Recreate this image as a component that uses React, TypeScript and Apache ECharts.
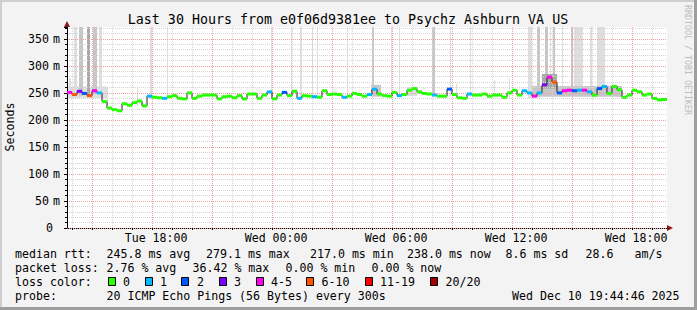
import React, { useEffect, useRef } from 'react';
import * as echarts from 'echarts';

// ---- data ----
const titleText = 'Last 30 Hours from e0f06d9381ee to Psychz Ashburn VA US';
const yAxisTitle = 'Seconds';
const watermark = 'RRDTOOL / TOBI OETIKER';

// time axis: minutes since the graph start (Tue 13:44:46), 30 hours long
const RANGE_MIN = 1800;
const STEP_MIN = 15;
const FIRST_FULL_HOUR_MIN = 15 + 14 / 60; // Tue 14:00:00
const HOUR_COUNT = 30;
const xTickLabels = ['Tue 18:00', 'Wed 00:00', 'Wed 06:00', 'Wed 12:00', 'Wed 18:00'];
const xTickHourIndex = [4, 10, 16, 22, 28]; // hours after Tue 14:00

// median rtt (ms), one value per 15 minutes
const medianRtt = [
  251, 247, 253, 249, 245, 254, 250, 234, 222, 219,
  217, 230, 227, 232, 235, 226, 244, 242, 241, 240,
  243, 245, 240, 239, 250, 240, 244, 246, 246, 246,
  239, 243, 244, 241, 245, 239, 248, 248, 240, 246,
  252, 239, 246, 251, 245, 253, 240, 245, 244, 243,
  242, 254, 247, 248, 247, 242, 244, 249, 247, 244,
  247, 257, 248, 245, 244, 251, 245, 247, 255, 258,
  252, 249, 248, 246, 244, 244, 257, 247, 241, 240,
  248, 246, 246, 248, 244, 246, 246, 242, 250, 255,
  246, 254, 250, 244, 250, 265, 279, 270, 250, 254,
  255, 254, 255, 255, 252, 246, 258, 262, 249, 262,
  256, 242, 246, 255, 252, 246, 248, 240, 237, 238,
];
// loss bucket index per step (0 = 0 lost, 1 = 1, 2 = 2, 3 = 3, 4 = 4-5, 5 = 6-10, 6 = 11-19, 7 = 20/20)
const lossBucket = [
  4, 5, 3, 2, 5, 4, 1, 0, 0, 0,
  0, 0, 0, 0, 0, 0, 1, 0, 0, 1,
  0, 0, 0, 0, 0, 0, 0, 0, 0, 0,
  0, 0, 0, 0, 0, 0, 0, 0, 0, 0,
  1, 0, 0, 2, 0, 0, 1, 0, 0, 1,
  0, 0, 0, 0, 0, 1, 0, 0, 0, 0,
  1, 1, 0, 0, 0, 0, 1, 0, 0, 0,
  0, 0, 0, 1, 0, 0, 2, 0, 0, 0,
  1, 0, 0, 0, 0, 0, 0, 0, 0, 0,
  0, 1, 1, 4, 1, 3, 4, 5, 2, 4,
  4, 2, 1, 4, 1, 0, 2, 1, 0, 0,
  0, 0, 0, 0, 0, 0, 0, 0, 0, 0,
];
// smoke: [start minute, duration minutes, low ms, high ms, density level]
const smoke = [
  [0, 120, 240, 262, 1],
  [912, 30, 243, 265, 2],
  [1020, 30, 244, 261, 1],
  [1395, 270, 243, 263, 2],
  [1425, 45, 258, 285, 3],
  [6, 6, 245, 277, 1],
  [21, 9, 244, 400, 1],
  [36, 12, 245, 400, 2],
  [60, 9, 243, 400, 3],
  [78, 12, 248, 400, 2],
  [96, 9, 246, 400, 1],
  [120, 3, 228, 261, 1],
  [210, 3, 226, 262, 1],
  [249, 6, 238, 400, 1],
  [300, 3, 239, 400, 1],
  [612, 3, 244, 400, 1],
  [672, 3, 243, 400, 1],
  [699, 6, 238, 400, 1],
  [735, 3, 240, 400, 1],
  [750, 3, 240, 400, 1],
  [840, 3, 242, 400, 1],
  [915, 6, 245, 400, 2],
  [972, 3, 243, 400, 1],
  [996, 3, 243, 400, 1],
  [1095, 9, 244, 400, 2],
  [1149, 3, 243, 400, 1],
  [1167, 3, 244, 268, 1],
  [1209, 3, 242, 400, 1],
  [1281, 3, 241, 274, 1],
  [1326, 3, 240, 277, 1],
  [1383, 12, 240, 400, 1],
  [1410, 9, 242, 400, 2],
  [1434, 9, 250, 400, 2],
  [1449, 3, 255, 400, 1],
  [1458, 6, 255, 400, 2],
  [1485, 3, 248, 400, 1],
  [1512, 6, 248, 400, 2],
  [1521, 27, 247, 400, 1],
  [1569, 6, 247, 400, 1],
  [1590, 24, 244, 400, 1],
  [1629, 18, 245, 265, 1],
];
const lossLabels = ['0', '1', '2', '3', '4-5', '6-10', '11-19', '20/20'];
const lossColors = ['#26ff00', '#00b8ff', '#0059ff', '#7e00ff', '#ff00ea', '#ff5500', '#ff0000', '#a10000'];

const rttStats = ['median rtt:', '245.8 ms avg', '279.1 ms max', '217.0 ms min', '238.0 ms now', '8.6 ms sd', '28.6', 'am/s'];
const lossStats = ['packet loss:', '2.76 % avg', '36.42 % max', '0.00 % min', '0.00 % now'];
const lossColorTitle = 'loss color:';
const probeStats = ['probe:', '20 ICMP Echo Pings (56 Bytes) every 300s'];
const timestamp = 'Wed Dec 10 19:44:46 2025';

// ---- styles / layout ----
const MONO = '"DejaVu Sans Mono", monospace';
const FS = 11.6;
const SHADES = ['#ffffff', '#dedede', '#c6c6c6', '#a8a8a8'];
const GRID_MAJOR = '#eea0a0';
const GRID_MINOR = '#d4d4d4';

function txt(x: number, y: number, text: string, extra: any = {}) {
  return {
    type: 'text',
    x,
    y,
    silent: true,
    style: { text, fill: '#000', fontFamily: MONO, fontSize: FS, align: 'left', verticalAlign: 'middle', ...extra },
  };
}

export default function App() {
  const ref = useRef<HTMLDivElement>(null);
  useEffect(() => {
    document.body.style.margin = '0';
    const chart = echarts.init(ref.current!, null, { renderer: 'svg', width: 697, height: 310 });

    const hourTicks: number[] = [];
    for (let k = 0; k < HOUR_COUNT; k++) hourTicks.push(FIRST_FULL_HOUR_MIN + 60 * k);
    const labelTicks = xTickHourIndex.map((k) => hourTicks[k]);

    const smokeData = smoke
      .map((s) => [s[0], s[0] + s[1], s[2], s[3], s[4]])
      .sort((a, b) => a[4] - b[4]);

    const stepData = medianRtt.map((v, i) => [i * STEP_MIN, (i + 1) * STEP_MIN, v, lossBucket[i]]);
    const linePts = medianRtt.map((v, i) => [i * STEP_MIN, v]);
    linePts.push([RANGE_MIN, medianRtt[medianRtt.length - 1]]);
    const gridData = hourTicks.map((v, k) => [v, k % 3 === 1 ? 1 : 0]);

    const graphic: any[] = [];
    // frame
    graphic.push({ type: 'rect', silent: true, shape: { x: 0, y: 0, width: 697, height: 2 }, style: { fill: '#cfcfcf' } });
    graphic.push({ type: 'rect', silent: true, shape: { x: 0, y: 0, width: 2, height: 310 }, style: { fill: '#cfcfcf' } });
    graphic.push({ type: 'rect', silent: true, shape: { x: 694, y: 0, width: 3, height: 310 }, style: { fill: '#9e9e9e' } });
    graphic.push({ type: 'rect', silent: true, shape: { x: 0, y: 307, width: 697, height: 3 }, style: { fill: '#9e9e9e' } });
    // arrows
    graphic.push({ type: 'polygon', silent: true, shape: { points: [[64, 27], [70, 27], [67, 21]] }, style: { fill: '#8b1a1a' } });
    graphic.push({ type: 'polygon', silent: true, shape: { points: [[667, 225], [667, 231], [673, 228]] }, style: { fill: '#8b1a1a' } });
    // title, axis title, watermark
    graphic.push(txt(348, 19, titleText, { fontSize: 13.3, align: 'center' }));
    graphic.push({ ...txt(10, 127, yAxisTitle, { align: 'center' }), rotation: Math.PI / 2 });
    graphic.push({ ...txt(688, 60, watermark, { align: 'center', fontSize: 8.3, fill: '#bdbdbd' }), rotation: -Math.PI / 2 });
    // legend
    const rttX = [15, 106.5, 206, 310, 407, 505.5, 585.5, 634.5];
    rttStats.forEach((t, i) => graphic.push(txt(rttX[i], 254, t)));
    const lossX = [15, 106.5, 192.5, 285.5, 371.5];
    lossStats.forEach((t, i) => graphic.push(txt(lossX[i], 268, t)));
    graphic.push(txt(15, 282, lossColorTitle));
    const boxX = [108.5, 145.5, 181.5, 219.5, 256.5, 306.5, 365.5, 430.5];
    const labX = [123, 160, 197, 234, 271, 321.5, 380, 445.5];
    lossLabels.forEach((t, i) => {
      graphic.push({
        type: 'rect', silent: true,
        shape: { x: boxX[i], y: 277.5, width: 7, height: 8 },
        style: { fill: lossColors[i], stroke: '#000', lineWidth: 1 },
      });
      graphic.push(txt(labX[i], 282, t));
    });
    graphic.push(txt(15, 296, probeStats[0]));
    graphic.push(txt(106.5, 296, probeStats[1]));
    graphic.push(txt(512, 296, timestamp));

    const option: any = {
      animation: false,
      backgroundColor: '#f3f3f3',
      grid: {
        left: 67, top: 27, width: 600, height: 201,
        show: true, backgroundColor: '#ffffff', borderWidth: 0,
        outerBoundsMode: 'none', containLabel: false,
      },
      xAxis: {
        type: 'value', min: 0, max: RANGE_MIN,
        axisLine: { show: true, onZero: false, lineStyle: { color: '#000', width: 1 } },
        axisTick: { show: true, customValues: hourTicks, length: 2, lineStyle: { color: '#000' } },
        axisLabel: {
          customValues: labelTicks,
          formatter: (v: number) => {
            const idx = labelTicks.findIndex((t) => Math.abs(t - v) < 0.01);
            return idx >= 0 ? xTickLabels[idx] : '';
          },
          fontFamily: MONO, fontSize: FS, color: '#000', margin: 4, padding: [0, 0, 0, 8],
        },
        splitLine: { show: false },
      },
      yAxis: {
        type: 'value', min: 0, max: 372, interval: 50, z: 2,
        axisLine: { show: true, lineStyle: { color: '#000', width: 1 } },
        axisTick: { show: true, length: 3, lineStyle: { color: '#000' } },
        minorTick: { show: true, splitNumber: 5, length: 2, lineStyle: { color: '#000' } },
        axisLabel: {
          showMaxLabel: false, margin: 7, color: '#000', fontFamily: MONO, fontSize: FS,
          formatter: (v: number) => (v === 0 ? '{z|0}' : `{v|${v}}{u|m}`),
          rich: {
            v: { fontFamily: MONO, fontSize: FS, color: '#000' },
            u: { fontFamily: MONO, fontSize: FS, color: '#000', padding: [0, 0, 0, 4] },
            z: { fontFamily: MONO, fontSize: FS, color: '#000', padding: [0, 7, 0, 0] },
          },
        },
        splitLine: { show: true, showMaxLine: false, lineStyle: { color: GRID_MAJOR, width: 1, type: [1, 1] } },
        minorSplitLine: { show: true, lineStyle: { color: GRID_MINOR, width: 1, type: [1, 1] } },
      },
      series: [
        {
          type: 'custom', z: 1, clip: true, silent: true,
          encode: { x: [0, 1], y: [2, 3] },
          data: smokeData,
          renderItem: (params: any, api: any) => {
            const p1 = api.coord([api.value(0), api.value(3)]);
            const p2 = api.coord([api.value(1), api.value(2)]);
            const cs = params.coordSys;
            const rect = echarts.graphic.clipRectByRect(
              { x: p1[0], y: p1[1], width: p2[0] - p1[0], height: p2[1] - p1[1] },
              { x: cs.x, y: cs.y, width: cs.width, height: cs.height },
            );
            if (!rect) return null;
            return { type: 'rect', shape: rect, style: { fill: SHADES[api.value(4)] } };
          },
        },
        {
          type: 'custom', z: 2, silent: true,
          encode: { x: 0 },
          data: gridData,
          renderItem: (params: any, api: any) => {
            const cs = params.coordSys;
            const x = Math.round(api.coord([api.value(0), 0])[0]) + 0.5;
            return {
              type: 'line',
              shape: { x1: x, y1: cs.y, x2: x, y2: cs.y + cs.height },
              style: { stroke: api.value(1) ? GRID_MAJOR : GRID_MINOR, lineWidth: 1, lineDash: [1, 1] },
            };
          },
        },
        {
          type: 'line', z: 3, step: 'end', showSymbol: false, symbol: 'none', silent: true,
          data: linePts,
          lineStyle: { color: '#202020', width: 1 },
        },
        {
          type: 'custom', z: 4, silent: true,
          encode: { x: [0, 1], y: 2 },
          data: stepData,
          renderItem: (params: any, api: any) => {
            const p1 = api.coord([api.value(0), api.value(2)]);
            const p2 = api.coord([api.value(1), api.value(2)]);
            return {
              type: 'rect',
              shape: { x: p1[0], y: p1[1] - 1.5, width: p2[0] - p1[0], height: 3 },
              style: { fill: lossColors[api.value(3)] },
            };
          },
        },
      ],
      graphic,
    };
    chart.setOption(option);
    return () => chart.dispose();
  }, []);
  return <div ref={ref} style={{ width: 697, height: 310 }} />;
}
